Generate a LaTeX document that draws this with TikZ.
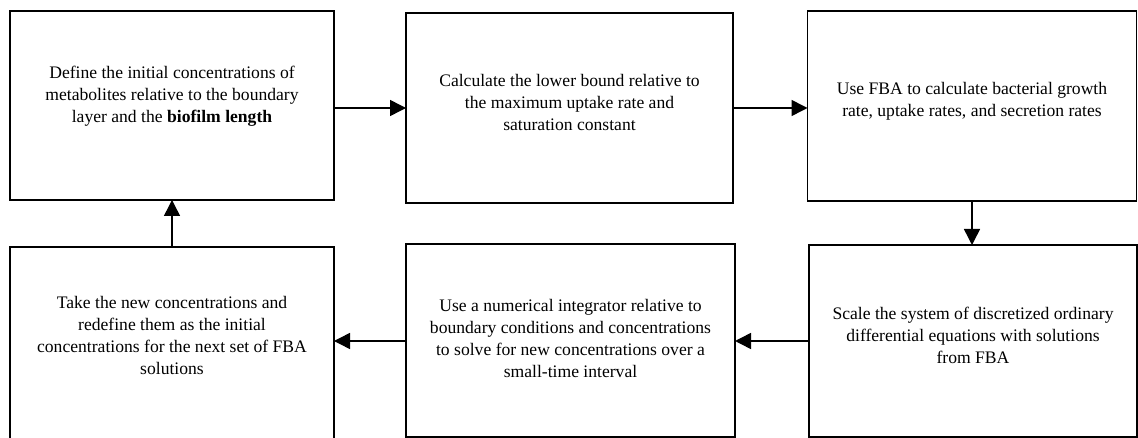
\documentclass[tikz,border=0pt]{standalone}
\usepackage{fontspec}
\setmainfont{Liberation Serif}
\usetikzlibrary{arrows.meta}
\tikzset{
  stepbox/.style={draw=black, line width=1.5pt, rectangle, inner sep=0pt, outer sep=0pt, fill=white},
  steptext/.style={align=center, inner sep=0pt, font=\fontsize{17.6}{22}\selectfont},
  arr/.style={draw=black, line width=1.5pt, -{Triangle[length=16pt,width=16pt]}}
}
\begin{document}
\begin{tikzpicture}[x=1pt,y=-1pt]
\useasboundingbox[fill=white] (0,0) rectangle (1138,438);
% boxes
\node[stepbox, minimum width=324pt, minimum height=189pt] (b1) at (172,105.5) {};
\node[stepbox, minimum width=327pt, minimum height=190pt] (b2) at (569.5,108) {};
\node[stepbox, minimum width=329pt, minimum height=190pt] (b3) at (972,106) {};
\node[stepbox, minimum width=324pt, minimum height=194pt] (b4) at (172,344) {};
\node[stepbox, minimum width=329pt, minimum height=193pt] (b5) at (570.5,340.5) {};
\node[stepbox, minimum width=328pt, minimum height=192pt] (b6) at (973,341) {};
% texts
\node[steptext] (t1) at (172,96) {Define the initial concentrations of\\metabolites relative to the boundary\\layer and the \textbf{biofilm length}};
\node[steptext] (t2) at (569.5,102) {Calculate the lower bound relative to\\the maximum uptake rate and\\saturation constant};
\node[steptext] (t3) at (972,101) {Use FBA to calculate bacterial growth\\rate, uptake rates, and secretion rates};
\node[steptext] (t4) at (172,335) {Take the new concentrations and\\redefine them as the initial\\concentrations for the next set of FBA\\solutions};
\node[steptext] (t5) at (570.5,338) {Use a numerical integrator relative to\\boundary conditions and concentrations\\to solve for new concentrations over a\\small-time interval};
\node[steptext] (t6) at (973,335) {Scale the system of discretized ordinary\\differential equations with solutions\\from FBA};
% connectors
\draw[arr] ([yshift=-2.5pt]b1.east) -- ([yshift=-2.5pt]b1.east -| b2.west);
\draw[arr] (b2.east) -- (b2.east -| b3.west);
\draw[arr] (b3.south) -- (b3.south |- b6.north);
\draw[arr] (b6.west) -- (b6.west -| b5.east);
\draw[arr] ([yshift=-0.5pt]b5.west) -- ([yshift=-0.5pt]b5.west -| b4.east);
\draw[arr] (b4.north) -- (b4.north |- b1.south);
\end{tikzpicture}
\end{document}
